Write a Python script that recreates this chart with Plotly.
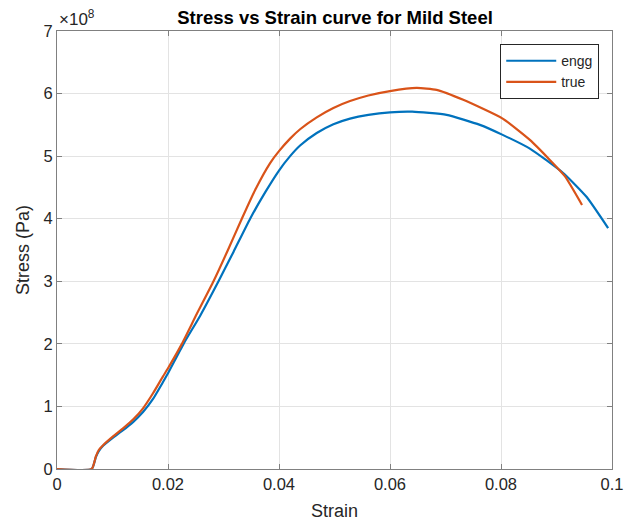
import plotly.graph_objects as go

# Engineering stress-strain (stress in units of 1e8 Pa)
engg_strain = [0, 0.00625, 0.0070, 0.0075, 0.0083, 0.0101, 0.0119, 0.0137, 0.0155, 0.0173,
               0.0191, 0.0200, 0.0228, 0.0258, 0.0291, 0.0318, 0.0348, 0.0375, 0.0400, 0.0420,
               0.0438, 0.0468, 0.0498, 0.0528, 0.0561, 0.0600, 0.0640, 0.0702, 0.0762, 0.0803,
               0.0852, 0.0912, 0.0954, 0.0993]
engg_stress_e8 = [0, 0, 0.19, 0.28, 0.37, 0.50, 0.62, 0.75, 0.91, 1.12,
                  1.39, 1.53, 2.0, 2.45, 3.0, 3.47, 4.0, 4.42, 4.77, 5.0,
                  5.17, 5.37, 5.51, 5.6, 5.66, 5.70, 5.71, 5.66, 5.50, 5.34,
                  5.12, 4.73, 4.35, 3.85]

# True stress-strain
true_strain = [0, 0.00625, 0.0070, 0.0075, 0.0083, 0.0101, 0.0119, 0.0137, 0.0155, 0.0173,
               0.0191, 0.0200, 0.0225, 0.0252, 0.0282, 0.0308, 0.0333, 0.0357, 0.0384, 0.0400,
               0.0420, 0.0438, 0.0468, 0.0498, 0.0528, 0.0561, 0.0600, 0.0648, 0.0684, 0.0732,
               0.0803, 0.0852, 0.0888, 0.0915, 0.0946]
true_stress_e8 = [0, 0, 0.2, 0.3, 0.38, 0.52, 0.65, 0.79, 0.97, 1.21,
                  1.48, 1.61, 2.0, 2.48, 3.0, 3.5, 4.0, 4.46, 4.89, 5.08,
                  5.28, 5.43, 5.62, 5.77, 5.88, 5.97, 6.04, 6.09, 6.06, 5.9,
                  5.6, 5.26, 4.94, 4.68, 4.22]

x_ticks = [0, 0.02, 0.04, 0.06, 0.08, 0.1]
x_ticklabels = ["0", "0.02", "0.04", "0.06", "0.08", "0.1"]
y_ticks_e8 = [0, 1, 2, 3, 4, 5, 6, 7]
y_ticklabels = ["0", "1", "2", "3", "4", "5", "6", "7"]

engg_stress = [v * 1e8 for v in engg_stress_e8]
true_stress = [v * 1e8 for v in true_stress_e8]
y_ticks = [v * 1e8 for v in y_ticks_e8]

FONT = "Liberation Sans, Arial, Helvetica, sans-serif"
AX = "#262626"
AXLINE = "#808080"

fig = go.Figure()
fig.add_trace(go.Scatter(x=engg_strain, y=engg_stress, mode="lines", name="engg",
                         line=dict(color="#0072BD", width=2.2, shape="spline", smoothing=0.5)))
fig.add_trace(go.Scatter(x=true_strain, y=true_stress, mode="lines", name="true",
                         line=dict(color="#D95319", width=2.2, shape="spline", smoothing=0.5)))

axis_common = dict(
    showgrid=True, gridcolor="#e3e3e3", gridwidth=1,
    showline=True, linecolor=AXLINE, linewidth=1, mirror="ticks",
    ticks="inside", ticklen=5, tickcolor=AXLINE,
    zeroline=False, automargin=False,
    tickfont=dict(family=FONT, size=16.5, color=AX),
)

fig.update_layout(
    width=635, height=521,
    margin=dict(l=57, r=23, t=31, b=52),
    paper_bgcolor="white", plot_bgcolor="white",
    title=dict(text="<b>Stress vs Strain curve for Mild Steel</b>", x=0.5276, xanchor="center",
               y=0.967, yanchor="middle", xref="container",
               font=dict(family=FONT, size=18.5, color="black")),
    xaxis=dict(range=[0, 0.1], tickvals=x_ticks, ticktext=x_ticklabels,
               title=dict(text="Strain", font=dict(family=FONT, size=18, color=AX)),
               **axis_common),
    yaxis=dict(range=[0, 7e8], tickvals=y_ticks, ticktext=y_ticklabels,
               **axis_common),
    legend=dict(x=0.977, y=0.970, xanchor="right", yanchor="top",
                bgcolor="white", bordercolor=AX, borderwidth=1,
                font=dict(family=FONT, size=14, color=AX),
                tracegroupgap=0, itemwidth=50),
    showlegend=True,
)

# y-axis title placed precisely
fig.add_annotation(text="Stress (Pa)", xref="paper", yref="paper", x=-0.0613, y=0.5,
                   xanchor="center", yanchor="middle", textangle=-90, showarrow=False,
                   font=dict(family=FONT, size=18, color=AX))

fig.add_annotation(text="×10<sup>8</sup>", xref="paper", yref="paper", x=0.0, y=1.0,
                   xanchor="left", yanchor="bottom", showarrow=False, yshift=0,
                   font=dict(family=FONT, size=17, color=AX))

fig.write_html("out.html", config={"displayModeBar": False},
               post_script="document.body.style.margin='0px';")
